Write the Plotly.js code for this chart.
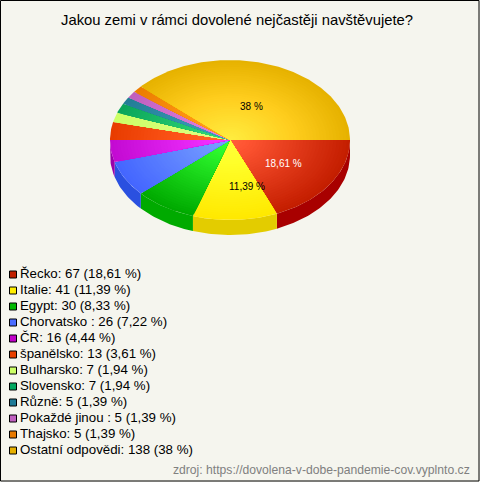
<!DOCTYPE html>
<html><head><meta charset="utf-8">
<script src="https://cdn.plot.ly/plotly-3.0.1.min.js"></script>
<style>html,body{margin:0;padding:0;background:#f5f5ee;overflow:hidden}#c{width:480px;height:482px}</style>
</head><body><div id="c"></div>
<script>
const categories=["Řecko","Italie","Egypt","Chorvatsko ","ČR","španělsko","Bulharsko","Slovensko","Různě","Pokaždé jinou ","Thajsko","Ostatní odpovědi"];
const counts=[67,41,30,26,16,13,7,7,5,5,5,138];
const percentLabels=["18,61 %","11,39 %","8,33 %","7,22 %","4,44 %","3,61 %","1,94 %","1,94 %","1,39 %","1,39 %","1,39 %","38 %"];
const legendColors=["#c02000","#ffee00","#00b800","#4a6cff","#c000c8","#e84000","#ccff66","#00a860","#1e7a96","#c060c0","#e87a00","#e6b000"];
const edgeColors=[[196,30,0],[255,232,0],[0,170,0],[68,102,255],[195,10,210],[232,60,0],[204,255,102],[10,165,90],[35,125,150],[192,95,190],[235,125,0],[230,178,0]];
const centerColors=[[265,95,60],[270,265,60],[55,265,55],[125,165,265],[250,55,265],[270,105,45],[225,265,135],[55,225,125],[65,165,195],[230,135,230],[270,165,35],[285,238,65]];
const sideColors=["#a80000","#e3cc00","#00aa00","#2a50e0","#9a00aa"];
const labelShift=[[3,1],[14,7],null,null,null,null,null,null,null,null,null,[0,4]];

const cx=230,cy=140,rx=120,ry=80,depth=15,rings=36,total=counts.reduce((a,b)=>a+b,0);
const pt=(a,f,dy=0)=>[cx+rx*f*Math.cos(a),cy+ry*f*Math.sin(a)+dy];
function arc(a0,a1,f,dy){const n=Math.max(3,Math.ceil((a1-a0)*50)),o=[];for(let i=0;i<=n;i++)o.push(pt(a0+(a1-a0)*i/n,f,dy));return o;}
function poly(points,color){return{type:'scatter',mode:'lines',x:points.map(p=>p[0]),y:points.map(p=>p[1]),fill:'toself',fillcolor:color,line:{width:0,color:color},hoverinfo:'skip',showlegend:false};}
const traces=[];let start=0;const ann=[];
const spans=counts.map(v=>{const s=[start,start+v/total*2*Math.PI];start=s[1];return s;});
spans.forEach((s,i)=>{if(s[1]<=Math.PI+1e-9){
  const top=arc(s[0],s[1],1,0),bot=arc(s[0],s[1],1,depth).reverse();
  traces.push(poly(top.concat(bot),sideColors[i]));
}});
spans.forEach((s,i)=>{
  for(let k=rings;k>=1;k--){
    const f=k/rings,e=edgeColors[i],c=centerColors[i];
    const col='rgb('+e.map((v,j)=>Math.min(255,Math.round(c[j]+(v-c[j])*f))).join(',')+')';
    traces.push(poly([[cx,cy]].concat(arc(s[0],s[1],f,0)),col));
  }
  const shift=labelShift[i];
  if(shift){const m=(s[0]+s[1])/2,p=pt(m,.5);
    ann.push({x:p[0],y:p[1],xref:'x',yref:'y',text:percentLabels[i],showarrow:false,xshift:shift[0],yshift:-shift[1],
      font:{family:'Liberation Sans',size:10,color:i===0?'#ffffff':'#000000'}});}
});
const ly=categories.map((_,i)=>274+i*16);
traces.push({type:'scatter',mode:'markers',x:categories.map(()=>13),y:ly.map(v=>v+.5),
  marker:{symbol:'square',size:7,color:legendColors,line:{color:'#000',width:1}},hoverinfo:'skip',showlegend:false});
traces.push({type:'scatter',mode:'text',x:categories.map(()=>20),y:ly.map(v=>v+1),
  text:categories.map((c,i)=>c+': '+counts[i]+' ('+percentLabels[i]+')'),textposition:'middle right',
  textfont:{family:'Liberation Sans',size:13.3,color:'#000'},hoverinfo:'skip',showlegend:false});
ann.push({x:236.5,y:20,xref:'x',yref:'y',text:'Jakou zemi v rámci dovolené nejčastěji navštěvujete?',showarrow:false,font:{family:'Liberation Sans',size:14.8,color:'#000'}});
ann.push({x:472,y:470,xref:'x',yref:'y',xanchor:'right',text:'zdroj: https://dovolena-v-dobe-pandemie-cov.vyplnto.cz',showarrow:false,font:{family:'Liberation Sans',size:12.15,color:'#808080'}});
const layout={width:480,height:482,margin:{l:0,r:0,t:0,b:0},paper_bgcolor:'#f5f5ee',plot_bgcolor:'#f5f5ee',showlegend:false,
  xaxis:{range:[0,480],visible:false,fixedrange:true},yaxis:{range:[482,0],visible:false,fixedrange:true},annotations:ann,
  shapes:[{type:'rect',xref:'x',yref:'y',x0:.5,y0:.5,x1:479,y1:481,line:{color:'#000',width:1},fillcolor:'rgba(0,0,0,0)'}]};
Plotly.newPlot('c',traces,layout,{displayModeBar:false,staticPlot:true});
</script></body></html>
